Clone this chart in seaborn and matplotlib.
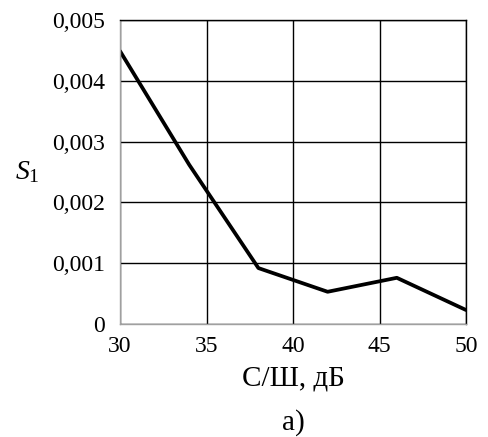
import matplotlib
matplotlib.use("Agg")
import matplotlib.pyplot as plt
import seaborn as sns
import pandas as pd
from matplotlib.ticker import FuncFormatter

snr_db = [30, 34, 38, 42, 46, 50]
s1_values = [0.00449, 0.00262, 0.00092, 0.00053, 0.00076, 0.00023]
x_ticks = [30, 35, 40, 45, 50]
y_ticks = [0, 0.001, 0.002, 0.003, 0.004, 0.005]

sns.set_theme(style="white")
plt.rcParams['font.family'] = ['Liberation Serif', 'DejaVu Serif']
plt.rcParams['mathtext.fontset'] = 'custom'
plt.rcParams['mathtext.rm'] = 'Liberation Serif'
plt.rcParams['mathtext.it'] = 'Liberation Serif:italic'

df = pd.DataFrame({"snr": snr_db, "s1": s1_values})

fig = plt.figure(figsize=(4.89, 4.37), dpi=100)
ax = fig.add_axes([0.2454, 0.2586, 0.7076, 0.6955])
sns.lineplot(data=df, x="snr", y="s1", ax=ax, color="black", linewidth=2.7)

ax.set_xlim(30, 50)
ax.set_ylim(0, 0.005)
ax.set_xticks(x_ticks)
ax.set_yticks(y_ticks)

def yfmt(v, pos):
    if abs(v) < 1e-12:
        return "0"
    return f"{v:.3f}".replace(".", ",")

ax.yaxis.set_major_formatter(FuncFormatter(yfmt))
ax.xaxis.set_major_formatter(FuncFormatter(lambda v, p: f"{int(round(v))}"))

ax.grid(True, color="black", linewidth=1.0)
ax.set_axisbelow(True)
for side in ["left", "bottom"]:
    ax.spines[side].set_color("#a0a0a0")
    ax.spines[side].set_linewidth(1.0)
for side in ["top", "right"]:
    ax.spines[side].set_color("black")
    ax.spines[side].set_linewidth(1.0)

ax.tick_params(axis="both", length=0, labelsize=17, colors="black")
ax.tick_params(axis="x", pad=9)
ax.tick_params(axis="y", pad=11)

ax.set_xlabel("С/Ш, дБ", fontsize=21, color="black", labelpad=6)
ax.set_ylabel("")
fig.text(0.056, 0.605, r"$S_{\mathrm{1}}$", fontsize=20, ha="center", va="center", color="black")
fig.text(0.6, 0.032, "а)", fontsize=21, ha="center", va="center", color="black")

fig.savefig("out.png", dpi=100)
